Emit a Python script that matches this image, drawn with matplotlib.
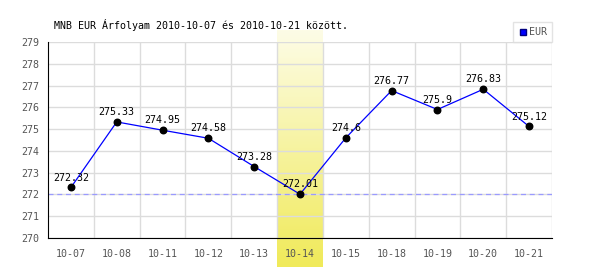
import numpy as np
import matplotlib.pyplot as plt
from matplotlib.colors import LinearSegmentedColormap

dates = ['10-07', '10-08', '10-11', '10-12', '10-13', '10-14',
         '10-15', '10-18', '10-19', '10-20', '10-21']
eur = [272.32, 275.33, 274.95, 274.58, 273.28, 272.01,
       274.6, 276.77, 275.9, 276.83, 275.12]
labels = ['272.32', '275.33', '274.95', '274.58', '273.28', '272.01',
          '274.6', '276.77', '275.9', '276.83', '275.12']
highlight_idx = 5
ref_level = 272
title = 'MNB EUR Árfolyam 2010-10-07 és 2010-10-21 között.'

mono = 'DejaVu Sans Mono'

fig = plt.figure(figsize=(6, 2.7), dpi=100)
ax = fig.add_axes([48 / 600, 1 - 238 / 270, 504 / 600, 196 / 270])

x = np.arange(len(dates))

# highlighted day, gradient bar sticking out of the axes
px_per_unit = 196 / 9
grad = np.linspace(0, 1, 100).reshape(-1, 1)
cmap = LinearSegmentedColormap.from_list('hl', ['#fdfce6', '#f0ea5a'])
ax.imshow(grad, cmap=cmap, aspect='auto', origin='upper',
          extent=(highlight_idx - 0.5, highlight_idx + 0.5,
                  270 - 29 / px_per_unit, 279 + 12 / px_per_unit),
          clip_on=False, zorder=0)
ax.set_xlim(-0.5, len(dates) - 0.5)
ax.set_ylim(270, 279)

# grid
for yv in range(270, 280):
    ax.axhline(yv, color='#dcdcdc', lw=1, zorder=1)
for xv in np.arange(0.5, len(dates), 1):
    ax.axvline(xv, color='#dcdcdc', lw=1, zorder=1)

ax.axhline(ref_level, color='#9a9aff', lw=0.9, ls=(0, (4, 3)), zorder=2)

ax.plot(x, eur, color='#0000ff', lw=0.9, zorder=3)
ax.scatter(x, eur, s=22, color='black', zorder=4)
for xi, yi, lab in zip(x, eur, labels):
    ax.text(xi, yi + 0.22, lab, ha='center', va='bottom', fontsize=7.2,
            family=mono, color='black', zorder=5)

for s in ['top', 'right']:
    ax.spines[s].set_visible(False)
ax.spines['left'].set_color('black')
ax.spines['bottom'].set_color('black')
ax.spines['left'].set_zorder(6)
ax.spines['bottom'].set_zorder(6)

ax.set_xticks(x)
ax.set_xticklabels(dates)
ax.set_yticks(range(270, 280))
ax.tick_params(length=0, labelsize=7.2, labelcolor='#555555', pad=8)
ax.tick_params(axis='y', pad=6)
for t in ax.get_xticklabels() + ax.get_yticklabels():
    t.set_family(mono)

fig.text(54 / 600, 1 - 25 / 270, title, fontsize=7.2, family=mono,
         va='center', ha='left', color='black')

# legend box
leg = ax.legend(handles=[plt.Line2D([], [], marker='s', ls='', color='#0000ff',
                                    markeredgecolor='#000080', markersize=5, label='EUR')],
                loc='lower right', bbox_to_anchor=(1.0, 1.0), frameon=True,
                fancybox=False, handletextpad=0.1, borderpad=0.5,
                prop={'family': mono, 'size': 7.2}, borderaxespad=0,
                handlelength=1)
leg.get_frame().set_edgecolor('#dcdcdc')
leg.get_frame().set_linewidth(1)
for t in leg.get_texts():
    t.set_color('#555555')

fig.savefig('out.png', dpi=100)
